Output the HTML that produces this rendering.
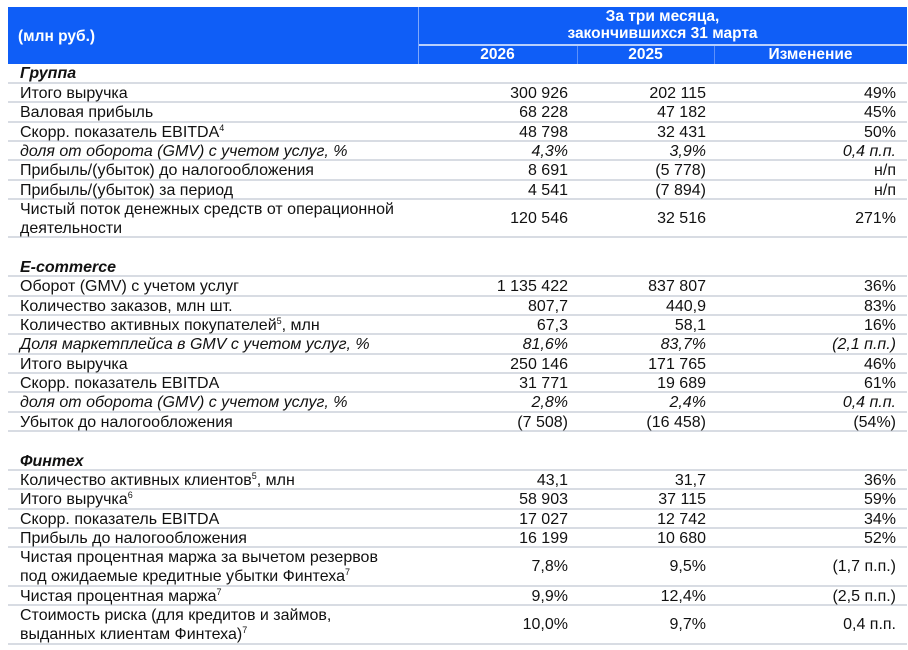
<!DOCTYPE html>
<html><head><meta charset="utf-8">
<style>
body{margin:0;width:908px;height:650px;background:#fff;position:relative;overflow:hidden;font-family:"Liberation Sans",Arial,sans-serif;color:#111;}
.hdr{position:absolute;left:8px;top:7px;width:899px;height:57px;background:#0f5ef7;}
.ht{position:absolute;color:#fff;font-weight:bold;font-size:15.5px;}
.row{position:absolute;left:8px;width:899px;border-bottom:2px solid #d8dce3;box-sizing:border-box;font-size:16px;}
.c{position:absolute;line-height:19px;}
.l{left:12px;}
.v1{right:339px;text-align:right;}
.v2{right:201px;text-align:right;}
.v3{right:11px;text-align:right;}
.i{font-style:italic;}
.b{font-weight:bold;}
sup{font-size:9px;line-height:0;vertical-align:6px;}
</style></head><body>
<div class="hdr">
 <div class="ht" style="left:10px;top:21px">(млн руб.)</div>
 <div style="position:absolute;left:410px;top:37px;width:489px;height:2px;background:#b8cffc"></div>
 <div style="position:absolute;left:410px;top:0;width:1px;height:57px;background:#7fa8fb"></div>
 <div style="position:absolute;left:569px;top:39px;width:1px;height:18px;background:#5d91fa"></div>
 <div style="position:absolute;left:706px;top:39px;width:1px;height:18px;background:#5d91fa"></div>
 <div class="ht" style="left:410px;width:489px;top:1px;text-align:center;line-height:17px">За три месяца,<br>закончившихся 31 марта</div>
 <div class="ht" style="left:410px;width:159px;top:39px;text-align:center;line-height:18px">2026</div>
 <div class="ht" style="left:569px;width:137px;top:39px;text-align:center;line-height:18px">2025</div>
 <div class="ht" style="left:706px;width:193px;top:39px;text-align:center;line-height:18px">Изменение</div>
</div>
<div id="tb"></div>
<script>
const rows=[
[64,20,'Группа','','','','sec'],
[84,19,'Итого выручка','300 926','202 115','49%'],
[103,20,'Валовая прибыль','68 228','47 182','45%'],
[123,19,'Скорр. показатель EBITDA<sup>4</sup>','48 798','32 431','50%'],
[142,19,'доля от оборота (GMV) с учетом услуг, %','4,3%','3,9%','0,4 п.п.','i'],
[161,20,'Прибыль/(убыток) до налогообложения','8 691','(5 778)','н/п'],
[181,19,'Прибыль/(убыток) за период','4 541','(7 894)','н/п'],
[200,38,'Чистый поток денежных средств от операционной<br>деятельности','120 546','32 516','271%'],
[258,19,'E-commerce','','','','sec'],
[277,20,'Оборот (GMV) с учетом услуг','1 135 422','837 807','36%'],
[297,19,'Количество заказов, млн шт.','807,7','440,9','83%'],
[316,19,'Количество активных покупателей<sup>5</sup>, млн','67,3','58,1','16%'],
[335,20,'Доля маркетплейса в GMV с учетом услуг, %','81,6%','83,7%','(2,1 п.п.)','i'],
[355,19,'Итого выручка','250 146','171 765','46%'],
[374,19,'Скорр. показатель EBITDA','31 771','19 689','61%'],
[393,20,'доля от оборота (GMV) с учетом услуг, %','2,8%','2,4%','0,4 п.п.','i'],
[413,19,'Убыток до налогообложения','(7 508)','(16 458)','(54%)'],
[452,19,'Финтех','','','','sec'],
[471,19,'Количество активных клиентов<sup>5</sup>, млн','43,1','31,7','36%'],
[490,20,'Итого выручка<sup>6</sup>','58 903','37 115','59%'],
[510,19,'Скорр. показатель EBITDA','17 027','12 742','34%'],
[529,19,'Прибыль до налогообложения','16 199','10 680','52%'],
[548,39,'Чистая процентная маржа за вычетом резервов<br>под ожидаемые кредитные убытки Финтеха<sup>7</sup>','7,8%','9,5%','(1,7 п.п.)'],
[587,19,'Чистая процентная маржа<sup>7</sup>','9,9%','12,4%','(2,5 п.п.)'],
[606,39,'Стоимость риска (для кредитов и займов,<br>выданных клиентам Финтеха)<sup>7</sup>','10,0%','9,7%','0,4 п.п.']
];
const tb=document.getElementById('tb');
rows.forEach((r,k)=>{
 const d=document.createElement('div');
 d.className='row';
 d.style.top=r[0]+'px';d.style.height=r[1]+'px';
 
 
 const two=r[1]>30;
 let h='<div class="c l'+(r[6]==='sec'?' i b':'')+(r[6]==='i'?' i':'')+'" style="top:0px">'+r[2]+'</div>';
 const vt=two?9:0;
 const ic=r[6]==='i'?' i':'';
 if(r[3]){
  h+='<div class="c v1'+ic+'" style="top:'+vt+'px">'+r[3]+'</div>';
  h+='<div class="c v2'+ic+'" style="top:'+vt+'px">'+r[4]+'</div>';
  h+='<div class="c v3'+ic+'" style="top:'+vt+'px">'+r[5]+'</div>';
 }
 d.innerHTML=h;
 tb.appendChild(d);
});
</script>
</body></html>
